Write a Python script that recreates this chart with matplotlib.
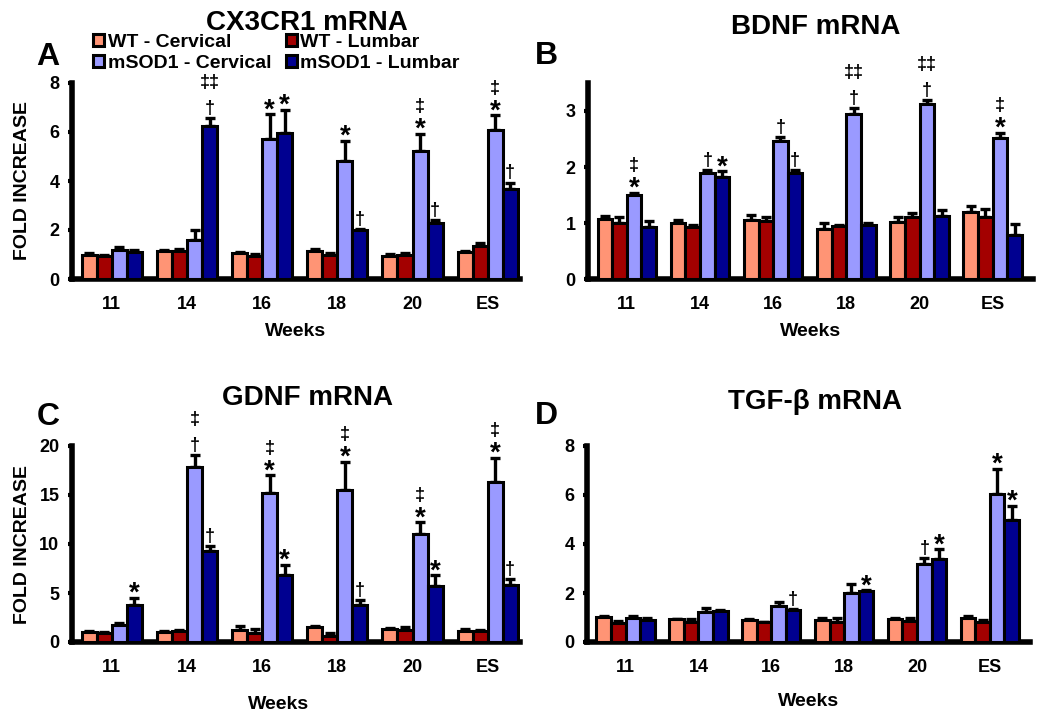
import numpy as np
import matplotlib
matplotlib.use("Agg")
import matplotlib.pyplot as plt

plt.rcParams['font.family'] = ['Liberation Sans', 'DejaVu Sans']
plt.rcParams['font.weight'] = 'bold'

weeks = ["11", "14", "16", "18", "20", "ES"]
series_names = ["WT - Cervical", "WT - Lumbar", "mSOD1 - Cervical", "mSOD1 - Lumbar"]
colors = ["#FF9475", "#A30000", "#9A9AFF", "#000090"]

# ---- CX3CR1 ----
cx_wt_c = [1.0, 1.15, 1.05, 1.15, 0.95, 1.1]
cx_wt_c_err = [0.05, 0.05, 0.07, 0.08, 0.06, 0.04]
cx_wt_l = [0.95, 1.15, 0.95, 1.0, 1.0, 1.35]
cx_wt_l_err = [0.05, 0.07, 0.08, 0.05, 0.05, 0.1]
cx_m_c = [1.17, 1.6, 5.7, 4.8, 5.23, 6.07]
cx_m_c_err = [0.12, 0.4, 1.03, 0.85, 0.7, 0.62]
cx_m_l = [1.1, 6.26, 5.97, 2.0, 2.28, 3.69]
cx_m_l_err = [0.1, 0.32, 0.93, 0.03, 0.13, 0.24]
cx_marks_c = ["", "", "*", "*", "*|‡", "*|‡"]
cx_marks_l = ["", "†|‡‡", "*", "†", "†", "†"]

# ---- BDNF ----
bd_wt_c = [1.08, 1.0, 1.06, 0.9, 1.02, 1.2]
bd_wt_c_err = [0.04, 0.05, 0.09, 0.1, 0.08, 0.1]
bd_wt_l = [1.0, 0.92, 1.04, 0.94, 1.1, 1.1]
bd_wt_l_err = [0.1, 0.04, 0.06, 0.03, 0.08, 0.15]
bd_m_c = [1.5, 1.9, 2.46, 2.95, 3.12, 2.52]
bd_m_c_err = [0.04, 0.04, 0.07, 0.1, 0.07, 0.09]
bd_m_l = [0.93, 1.82, 1.9, 0.97, 1.12, 0.78]
bd_m_l_err = [0.1, 0.1, 0.05, 0.03, 0.12, 0.2]
bd_marks_c = ["*|‡", "†", "†", "†|‡‡", "†|‡‡", "*|‡"]
bd_marks_l = ["", "*", "†", "", "", ""]

# ---- GDNF ----
gd_wt_c = [1.0, 1.05, 1.2, 1.55, 1.35, 1.1]
gd_wt_c_err = [0.1, 0.05, 0.4, 0.05, 0.05, 0.2]
gd_wt_l = [0.95, 1.15, 0.9, 0.6, 1.2, 1.1]
gd_wt_l_err = [0.05, 0.05, 0.4, 0.35, 0.3, 0.15]
gd_m_c = [1.7, 17.9, 15.16, 15.5, 11.07, 16.3]
gd_m_c_err = [0.2, 1.2, 1.84, 2.9, 1.13, 2.5]
gd_m_l = [3.8, 9.3, 6.8, 3.8, 5.72, 5.86]
gd_m_l_err = [0.7, 0.5, 1.1, 0.45, 1.08, 0.54]
gd_marks_c = ["", "†|‡", "*|‡", "*|‡", "*|‡", "*|‡"]
gd_marks_l = ["*", "†", "*", "†", "*", "†"]

# ---- TGF-beta ----
tg_wt_c = [1.02, 0.92, 0.9, 0.9, 0.95, 1.0]
tg_wt_c_err = [0.03, 0.03, 0.05, 0.1, 0.03, 0.05]
tg_wt_l = [0.78, 0.8, 0.8, 0.82, 0.85, 0.82]
tg_wt_l_err = [0.07, 0.12, 0.03, 0.16, 0.12, 0.06]
tg_m_c = [1.0, 1.22, 1.45, 1.98, 3.2, 6.06]
tg_m_c_err = [0.05, 0.18, 0.2, 0.38, 0.23, 1.01]
tg_m_l = [0.9, 1.28, 1.3, 2.07, 3.37, 5.0]
tg_m_l_err = [0.07, 0.03, 0.05, 0.04, 0.42, 0.56]
tg_marks_c = ["", "", "", "", "†", "*"]
tg_marks_l = ["", "", "†", "*", "*", "*"]

W, H = 1050, 722
fig = plt.figure(figsize=(W / 100, H / 100), dpi=100)


def px_rect(l, r, bottom, top):
    return [l / W, 1 - bottom / H, (r - l) / W, (bottom - top) / H]


BW = 0.2
offsets = [-1.5 * BW, -0.5 * BW, 0.5 * BW, 1.5 * BW]

STAR_FS = 20
DAG_FS = 13
# offsets (points) for va='center'
OFF = {"*": 2.8, "†": 7.0, "‡": 7.0, "‡‡": 7.0}
OFF_TOP = {"*": 19.5, "†": 25.5}


def put_marks(ax, xs, tops, marks):
    for x, t, m in zip(xs, tops, marks):
        if not m:
            continue
        parts = m.split("|")
        base = parts[0]
        fs = STAR_FS if base == "*" else DAG_FS
        ax.annotate(base, xy=(x, t), xytext=(0, OFF[base]), textcoords="offset points",
                    ha="center", va="center", fontsize=fs, fontweight="bold",
                    annotation_clip=False)
        if len(parts) > 1:
            ax.annotate(parts[1], xy=(x, t), xytext=(0, OFF_TOP[base]), textcoords="offset points",
                        ha="center", va="center", fontsize=DAG_FS, fontweight="bold",
                        annotation_clip=False)


def panel(rect, vals, errs, marks_c, marks_l, ylim, yticks, xlim, title, title_xy, letter, letter_xy,
          ylabel, xlabel_xy):
    ax = fig.add_axes(rect)
    x = np.arange(len(weeks))
    handles = []
    for i, (v, e) in enumerate(zip(vals, errs)):
        xi = x + offsets[i]
        b = ax.bar(xi, v, width=BW, color=colors[i], edgecolor="black", linewidth=2.2,
                   zorder=3, label=series_names[i])
        handles.append(b)
        ax.errorbar(xi, v, yerr=[np.zeros(len(v)), e], fmt="none", ecolor="black",
                    elinewidth=2.4, capsize=3.6, capthick=2.4, zorder=2)
        if i == 2:
            put_marks(ax, xi, np.array(v) + np.array(e), marks_c)
        if i == 3:
            put_marks(ax, xi, np.array(v) + np.array(e), marks_l)
    ax.set_xlim(*xlim)
    ax.set_ylim(*ylim)
    ax.set_yticks(yticks)
    ax.set_xticks(x)
    ax.set_xticklabels(weeks)
    for s in ["top", "right"]:
        ax.spines[s].set_visible(False)
    for s in ["left", "bottom"]:
        ax.spines[s].set_linewidth(4)
        ax.spines[s].set_capstyle("projecting")
    ax.tick_params(axis="y", direction="out", length=3, width=3, labelsize=13, pad=6)
    ax.tick_params(axis="x", length=0, labelsize=13, pad=12)
    for lab in ax.get_xticklabels() + ax.get_yticklabels():
        lab.set_fontweight("bold")
    if ylabel:
        ax.set_ylabel("FOLD INCREASE", fontsize=14, fontweight="bold")
        ax.yaxis.set_label_coords(-0.092, 0.5)
    ax.set_xlabel("Weeks", fontsize=14, fontweight="bold")
    ax.xaxis.set_label_coords(*xlabel_xy)
    fig.text(title_xy[0] / W, 1 - title_xy[1] / H, title, ha="center", va="baseline",
             fontsize=20, fontweight="bold")
    fig.text(letter_xy[0] / W, 1 - letter_xy[1] / H, letter, ha="center", va="baseline",
             fontsize=23, fontweight="bold")
    return ax, handles


ax_a, h = panel(px_rect(72, 520, 279, 83),
                [cx_wt_c, cx_wt_l, cx_m_c, cx_m_l],
                [cx_wt_c_err, cx_wt_l_err, cx_m_c_err, cx_m_l_err],
                cx_marks_c, cx_marks_l, (0, 8), [0, 2, 4, 6, 8], (-0.53, 5.43),
                "CX3CR1 mRNA", (307, 30), "A", (48, 65), True, (0.5, -0.225))
ax_b, _ = panel(px_rect(588, 1033, 279, 83),
                [bd_wt_c, bd_wt_l, bd_m_c, bd_m_l],
                [bd_wt_c_err, bd_wt_l_err, bd_m_c_err, bd_m_l_err],
                bd_marks_c, bd_marks_l, (0, 3.5), [0, 1, 2, 3], (-0.53, 5.55),
                "BDNF mRNA", (816, 34), "B", (546, 64), False, (0.5, -0.225))
ax_c, _ = panel(px_rect(72, 520, 642, 446),
                [gd_wt_c, gd_wt_l, gd_m_c, gd_m_l],
                [gd_wt_c_err, gd_wt_l_err, gd_m_c_err, gd_m_l_err],
                gd_marks_c, gd_marks_l, (0, 20), [0, 5, 10, 15, 20], (-0.53, 5.43),
                "GDNF mRNA", (307, 405), "C", (48, 425), True, (0.46, -0.275))
ax_d, _ = panel(px_rect(587, 1030, 642, 446),
                [tg_wt_c, tg_wt_l, tg_m_c, tg_m_l],
                [tg_wt_c_err, tg_wt_l_err, tg_m_c_err, tg_m_l_err],
                tg_marks_c, tg_marks_l, (0, 8), [0, 2, 4, 6, 8], (-0.53, 5.55),
                "TGF-β mRNA", (815, 409), "D", (546, 424), False, (0.5, -0.26))

fig.legend([h[0], h[2], h[1], h[3]],
           [series_names[0], series_names[2], series_names[1], series_names[3]],
           ncol=2, loc="upper left", bbox_to_anchor=(93 / W, 1 - 34 / H),
           frameon=False, handlelength=0.57, handleheight=0.57,
           handletextpad=0.18, columnspacing=0.75, labelspacing=0.2,
           borderpad=0, borderaxespad=0, prop={"weight": "bold", "size": 14})

fig.savefig("out.png", dpi=100)
